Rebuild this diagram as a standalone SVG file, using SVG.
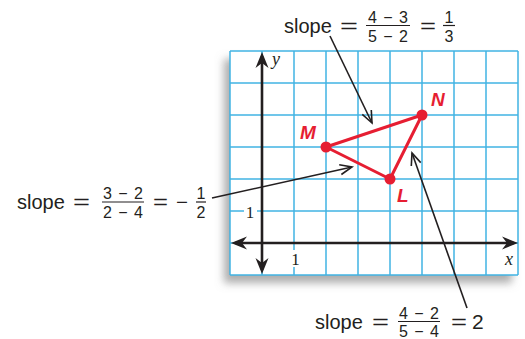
<svg xmlns="http://www.w3.org/2000/svg" width="525" height="339" viewBox="0 0 525 339">
<defs>
<style>
.lbl{font-family:"Liberation Sans",Arial,sans-serif;fill:#231f20}
.big{font-size:20px}
.frac{font-size:16px}
.bar{stroke:#231f20;stroke-width:1.2}
.grid line{stroke:#41b3e3;stroke-width:1.5}
.axis{stroke:#231f20;stroke-width:2.6}
.tri{stroke:#e61e32;stroke-width:3;fill:none;stroke-linejoin:round}
.pt{fill:#e61e32}
.ptl{font-family:"Liberation Sans",Arial,sans-serif;font-weight:bold;font-style:italic;font-size:19px;fill:#e61e32}
.num{font-family:"Liberation Serif","Times New Roman",serif;font-size:17px;fill:#231f20}
.var{font-family:"Liberation Serif","Times New Roman",serif;font-style:italic;font-size:18px;fill:#231f20}
.leader{stroke:#231f20;stroke-width:1.6;fill:none}
</style>
<filter id="sh" x="-15%" y="-15%" width="130%" height="135%">
<feDropShadow dx="-6" dy="8" stdDeviation="4" flood-color="#777" flood-opacity="0.6"/>
</filter>
<marker id="ax" markerUnits="userSpaceOnUse" orient="auto-start-reverse" markerWidth="30" markerHeight="30" refX="0" refY="0" overflow="visible">
<path d="M4,0 L-12,-6.5 L-7,0 L-12,6.5 Z" fill="#231f20"/>
</marker>
<marker id="ar" markerUnits="userSpaceOnUse" orient="auto" markerWidth="20" markerHeight="20" refX="0" refY="0" overflow="visible">
<path d="M-12,-5 L0,0 L-12,5" fill="none" stroke="#231f20" stroke-width="1.6"/>
</marker>
</defs>

<g id="grid">
<rect x="230" y="51" width="288" height="224" fill="#fff" filter="url(#sh)"/>
<g class="grid">
<line x1="230" y1="51" x2="230" y2="275"/>
<line x1="262" y1="51" x2="262" y2="275"/>
<line x1="294" y1="51" x2="294" y2="275"/>
<line x1="326" y1="51" x2="326" y2="275"/>
<line x1="358" y1="51" x2="358" y2="275"/>
<line x1="390" y1="51" x2="390" y2="275"/>
<line x1="422" y1="51" x2="422" y2="275"/>
<line x1="454" y1="51" x2="454" y2="275"/>
<line x1="486" y1="51" x2="486" y2="275"/>
<line x1="518" y1="51" x2="518" y2="275"/>
<line x1="230" y1="51" x2="518" y2="51"/>
<line x1="230" y1="83" x2="518" y2="83"/>
<line x1="230" y1="115" x2="518" y2="115"/>
<line x1="230" y1="147" x2="518" y2="147"/>
<line x1="230" y1="179" x2="518" y2="179"/>
<line x1="230" y1="211" x2="518" y2="211"/>
<line x1="230" y1="243" x2="518" y2="243"/>
<line x1="230" y1="275" x2="518" y2="275"/>
</g>
<rect x="244" y="204" width="13" height="16" fill="#fff"/>
<rect x="289" y="250" width="13" height="17" fill="#fff"/>
<text class="num" x="250" y="218" text-anchor="middle">1</text>
<text class="num" x="295.5" y="265" text-anchor="middle">1</text>
</g>

<g id="axes">
<line class="axis" x1="235" y1="243" x2="514" y2="243" marker-start="url(#ax)" marker-end="url(#ax)"/>
<line class="axis" x1="262" y1="56" x2="262" y2="270" marker-start="url(#ax)" marker-end="url(#ax)"/>
<text class="var" x="272" y="65">y</text>
<text class="var" x="505" y="265">x</text>
</g>

<g id="triangle">
<polygon class="tri" points="326,147 422,115 390,179"/>
</g>
<g id="M">
<circle class="pt" cx="326" cy="147" r="5.5"/>
<text class="ptl" x="300" y="139">M</text>
</g>
<g id="N">
<circle class="pt" cx="422" cy="115" r="5.5"/>
<text class="ptl" x="431" y="106">N</text>
</g>
<g id="L">
<circle class="pt" cx="390" cy="179" r="5.5"/>
<text class="ptl" x="397" y="202">L</text>
</g>

<g id="connectors">
<line class="leader" x1="330" y1="36" x2="372" y2="123" marker-end="url(#ar)"/>
<line class="leader" x1="212" y1="198" x2="352" y2="167" marker-end="url(#ar)"/>
<line class="leader" x1="467" y1="308" x2="412" y2="153" marker-end="url(#ar)"/>
</g>

<g id="label-MN" class="lbl">
<text class="big" x="284" y="32.5">slope</text>
<text class="big" x="340" y="32.5" textLength="18" lengthAdjust="spacingAndGlyphs">=</text>
<text class="frac" x="388" y="22.5" text-anchor="middle" textLength="40">4 − 3</text>
<line class="bar" x1="366" y1="25.5" x2="410" y2="25.5"/>
<text class="frac" x="388" y="41.5" text-anchor="middle" textLength="40">5 − 2</text>
<text class="big" x="420" y="32.5" textLength="16" lengthAdjust="spacingAndGlyphs">=</text>
<text class="frac" x="449" y="22.5" text-anchor="middle">1</text>
<line class="bar" x1="443" y1="25.5" x2="455" y2="25.5"/>
<text class="frac" x="449" y="41.5" text-anchor="middle">3</text>
</g>

<g id="label-ML" class="lbl">
<text class="big" x="17" y="209">slope</text>
<text class="big" x="73" y="209" textLength="17" lengthAdjust="spacingAndGlyphs">=</text>
<text class="frac" x="123" y="199" text-anchor="middle" textLength="40">3 − 2</text>
<line class="bar" x1="102" y1="202" x2="144" y2="202"/>
<text class="frac" x="123" y="218" text-anchor="middle" textLength="40">2 − 4</text>
<text class="big" x="153" y="209" textLength="15" lengthAdjust="spacingAndGlyphs">=</text>
<text class="big" x="176" y="209" textLength="12" lengthAdjust="spacingAndGlyphs">−</text>
<text class="frac" x="201" y="199" text-anchor="middle">1</text>
<line class="bar" x1="196" y1="202" x2="206" y2="202"/>
<text class="frac" x="201" y="218" text-anchor="middle">2</text>
</g>

<g id="label-LN" class="lbl">
<text class="big" x="315" y="329">slope</text>
<text class="big" x="372" y="329" textLength="17" lengthAdjust="spacingAndGlyphs">=</text>
<text class="frac" x="419" y="318.5" text-anchor="middle" textLength="40">4 − 2</text>
<line class="bar" x1="398" y1="321.5" x2="440" y2="321.5"/>
<text class="frac" x="419" y="337" text-anchor="middle" textLength="40">5 − 4</text>
<text class="big" x="451" y="329" textLength="16" lengthAdjust="spacingAndGlyphs">=</text>
<text class="big" x="472" y="329" style="font-size:21px">2</text>
</g>
</svg>
